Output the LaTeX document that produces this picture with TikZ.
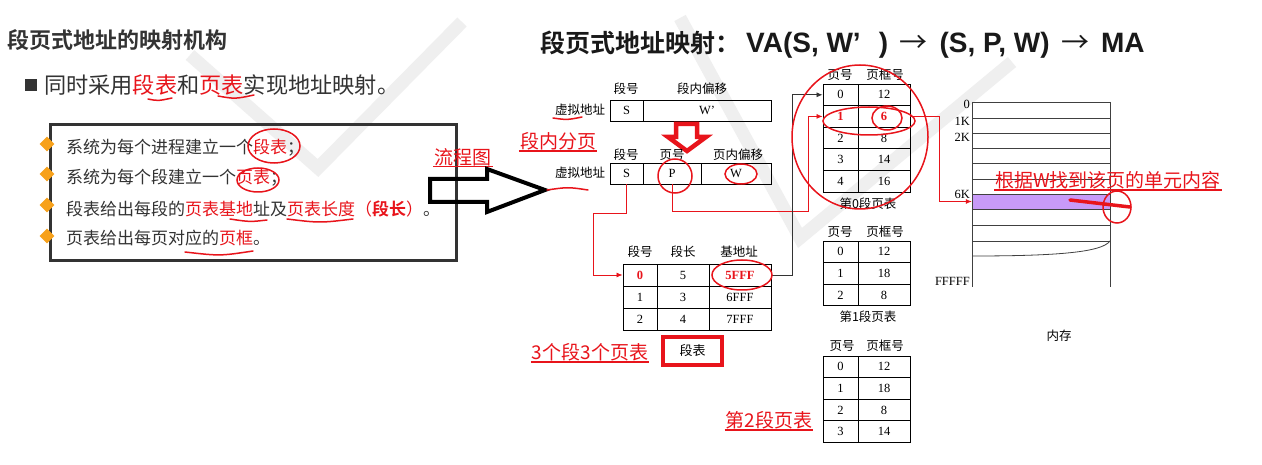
\documentclass[tikz,border=0pt]{standalone}
\usepackage{fontspec}
\setmainfont{Liberation Serif}
\newfontfamily\cjk{Noto Sans CJK SC}[BoldFont={Noto Sans CJK SC Bold}]
\newfontfamily\latsans{Liberation Sans}
\usetikzlibrary{arrows.meta,positioning,calc,shapes.geometric}
\definecolor{pen}{HTML}{E8141B}
\definecolor{ink}{HTML}{333333}
\definecolor{amber}{HTML}{F7A11A}
\definecolor{lilac}{HTML}{C89AF8}
\definecolor{ghost}{HTML}{EFEFEF}
\tikzset{
  cell/.style={draw,line width=0.9pt,inner sep=0pt,minimum height=21.6pt,minimum width=#1,font=\fontsize{12.5}{14}\selectfont},
  cell/.default=35pt,
  hot/.style={text=pen,font=\bfseries\fontsize{12.5}{14}\selectfont},
  norm/.style={},
  lbl/.style={font=\cjk\fontsize{12.5}{14}\selectfont,inner sep=0pt},
  memlbl/.style={font=\fontsize{12.5}{14}\selectfont,inner sep=1pt,anchor=east},
  item/.style={anchor=west,font=\cjk\fontsize{17}{19}\selectfont,text=ink,inner sep=0pt},
  redtag/.style={text=pen,font=\cjk\fontsize{19}{21}\selectfont,inner sep=1pt,
    append after command={(\tikzlastnode.south west) edge[pen,line width=1.1pt] (\tikzlastnode.south east)}},
  scrawl/.style={pen,line width=1.5pt,line cap=round},
  link/.style={pen,line width=0.8pt,-{Latex[length=6pt,width=5pt]}},
  blink/.style={black!80,line width=0.8pt,-{Latex[length=6pt,width=5pt]}},
  memline/.style={black!75,line width=0.8pt},
}
\begin{document}
\begin{tikzpicture}[x=1pt,y=-1pt]
  \useasboundingbox (0,0) rectangle (1262,465);
  \fill[white] (0,0) rectangle (1262,465);
  % watermark
  \draw[ghost,line width=13pt] (190,55) -- (318,168) -- (462,22);
  \draw[ghost,line width=13pt] (680,18) -- (800,238) -- (1012,62);

  % left half: slide text
  \node[anchor=west,font=\cjk\bfseries\fontsize{22}{24}\selectfont,text=ink,inner sep=0pt] (ltitle) at (7,40) {段页式地址的映射机构};
  \node[fill=ink,inner sep=0pt,minimum size=12pt] (sq) at (31,85) {};
  \node[anchor=west,font=\cjk\fontsize{22.2}{24}\selectfont,text=ink,inner sep=0pt] (lead) at (44,85) {同时采用\textcolor{pen}{段表}和\textcolor{pen}{页表}实现地址映射。};
  \node[draw=ink,line width=3pt,minimum width=406pt,minimum height=136pt,inner sep=0pt] (rules) at (253,193) {};
  \foreach \i/\y in {1/144,2/174,3/205,4/236}
    \node[diamond,fill=amber,inner sep=0pt,minimum size=15pt] (dot\i) at (47,\y) {};
  \node[item] (it1) at (66,148) {系统为每个进程建立一个\textcolor{pen}{段表}；};
  \node[item] (it2) at (66,178) {系统为每个段建立一个\textcolor{pen}{页表}；};
  \node[item] (it3) at (66,209) {段表给出每段的\textcolor{pen}{页表基地}址及\textcolor{pen}{页表长度（\textbf{段长}）}。};
  \node[item] (it4) at (66,238) {页表给出每页对应的\textcolor{pen}{页框}。};
  \node[redtag] (flowtag) at (463,157) {流程图};
  \draw[line width=4pt,line join=miter] (430,179) -- (487,179) -- (487,169) -- (545,190) -- (487,212) -- (487,202) -- (430,202) -- cycle;

  % right half: mapping
  \node[anchor=west,font=\cjk\bfseries\fontsize{25}{28}\selectfont,text=black!90,inner sep=0pt] (rtitle) at (540,45)
    {段页式地址映射：\hspace{6pt}{\latsans\bfseries\fontsize{28}{30}\selectfont VA(S, W’\hspace{18pt})\hspace{4pt} {\cjk\mdseries →}\hspace{4pt} (S, P, W)\hspace{4pt} {\cjk\mdseries →}\hspace{4pt} MA}};

  % virtual address before / after
  \node[lbl] at (626,89) {段号};
  \node[lbl] at (702,89) {段内偏移};
  \node[lbl] (va1lbl) at (580,110) {虚拟地址};
  \node[cell=33pt,minimum height=21pt] (va1-s) at (626.5,110.5) {S};
  \node[cell=128pt,minimum height=21pt] (va1-w) at (707,110.5) {W’};
  \draw[pen,line width=4.5pt,line join=miter,fill=white] (676,124) -- (697,124) -- (697,137) -- (706,137) -- (687,151) -- (668,137) -- (676,137) -- cycle;
  \node[redtag] (splittag) at (558,141) {段内分页};
  \node[lbl] at (626,155) {段号};
  \node[lbl] at (672,155) {页号};
  \node[lbl] at (738,155) {页内偏移};
  \node[lbl] (va2lbl) at (580,173) {虚拟地址};
  \node[cell=33pt,minimum height=21pt] (va2-s) at (626.5,173.5) {S};
  \node[cell=58pt,minimum height=21pt] (va2-p) at (672,173.5) {P};
  \node[cell=70pt,minimum height=21pt] (va2-w) at (736,173.5) {W};

  % segment table
  \node[lbl] at (640,252) {段号};
  \node[lbl] at (683,252) {段长};
  \node[lbl] at (739,252) {基地址};
  \foreach \r/\a/\b/\c/\s in {0/0/5/5FFF/hot,1/1/3/6FFF/norm,2/2/4/7FFF/norm} {
    \node[cell=34pt,minimum height=22pt,\s] (seg-\r-1) at (640,{275+22*\r}) {\a};
    \node[cell=52pt,minimum height=22pt] (seg-\r-2) at (683,{275+22*\r}) {\b};
    \node[cell=62pt,minimum height=22pt,\s] (seg-\r-3) at (740,{275+22*\r}) {\c};
  }
  \node[redtag] (counttag) at (590,352) {3个段3个页表};
  \node[draw=pen,line width=4pt,minimum width=59pt,minimum height=28pt,font=\cjk\fontsize{13}{15}\selectfont] (segbox) at (692.5,351) {段表};

  % page tables
  \node[lbl] at (840,75) {页号};
  \node[lbl] at (885,75) {页框号};
  \foreach \r/\a/\b/\s in {0/0/12/norm,1/1/6/hot,2/2/8/norm,3/3/14/norm,4/4/16/norm} {
    \node[cell=35pt,\s] (pa-\r-1) at (840.5,{94.8+21.6*\r}) {\a};
    \node[cell=52pt,\s] (pa-\r-2) at (884,{94.8+21.6*\r}) {\b};
  }
  \node[lbl] (pa-name) at (868,204) {第0段页表};
  \node[lbl] at (840,232) {页号};
  \node[lbl] at (885,232) {页框号};
  \foreach \r/\a/\b in {0/0/12,1/1/18,2/2/8} {
    \node[cell=35pt] (pb-\r-1) at (840.5,{251.8+21.6*\r}) {\a};
    \node[cell=52pt] (pb-\r-2) at (884,{251.8+21.6*\r}) {\b};
  }
  \node[lbl] (pb-name) at (868,317) {第1段页表};
  \node[lbl] at (842,346) {页号};
  \node[lbl] at (885,346) {页框号};
  \foreach \r/\a/\b in {0/0/12,1/1/18,2/2/8,3/3/14} {
    \node[cell=35pt] (pc-\r-1) at (840.5,{366.8+21.6*\r}) {\a};
    \node[cell=52pt] (pc-\r-2) at (884,{366.8+21.6*\r}) {\b};
  }
  \node[redtag] (pc-name) at (769,420) {第2段页表};

  % memory
  \node[fill=lilac,inner sep=0pt,minimum width=138pt,minimum height=15pt] (band) at (1041,201.5) {};
  \draw[memline] (972,102) -- (972,287) (1110,102) -- (1110,287);
  \foreach \y in {102,118,133,148,163,179,194,209,225,241}
    \draw[memline] (972,\y) -- (1110,\y);
  \draw[memline] (972,256) .. controls (1060,256) and (1102,252) .. (1110,241);
  \node[memlbl] at (971,104) {0};
  \node[memlbl] at (971,121) {1K};
  \node[memlbl] at (971,137) {2K};
  \node[memlbl] at (971,194) {6K};
  \node[memlbl] at (971,281) {FFFFF};
  \node[lbl] (memname) at (1059,336) {内存};
  \node[redtag,anchor=west] (findtag) at (994,180) {根据W找到该页的单元内容};

  % connectors
  \coordinate (sbend) at (593,213);
  \coordinate (pbend) at (808,211);
  \draw[link] (va2-s.south) |- (sbend) |- (seg-0-1.west);
  \draw[link] (va2-p.south) |- (pbend) |- (pa-1-1.west);
  \draw[blink] (seg-0-3.east) -| ([xshift=-30pt]pa-0-1.west) -- (pa-0-1.west);
  \draw[link] (pa-1-2.east) -| ([xshift=-32pt]band.west) -- (band.west);

  % hand marks
  \draw[scrawl] (148,99) .. controls (158,101) .. (172,98);
  \draw[scrawl] (218,96) .. controls (235,99) .. (254,95);
  \draw[scrawl] (274,146) ellipse [x radius=26pt,y radius=17pt];
  \draw[scrawl] (258,180) ellipse [x radius=21pt,y radius=12pt];
  \draw[scrawl] (230,219) .. controls (250,222) .. (267,220);
  \draw[scrawl] (287,219) .. controls (320,223) .. (353,219);
  \draw[scrawl] (185,252) .. controls (220,256) .. (253,251);
  \draw[scrawl] (553,118) .. controls (567,120) .. (582,117);
  \draw[scrawl] (547,190) .. controls (568,187) .. (588,190);
  \draw[scrawl] (675,176) ellipse [x radius=17pt,y radius=17pt];
  \draw[scrawl] (741,174) ellipse [x radius=16pt,y radius=10pt];
  \draw[scrawl] (742,275) ellipse [x radius=30pt,y radius=15pt];
  \draw[scrawl] (860,137) ellipse [x radius=68pt,y radius=72pt];
  \draw[scrawl] (869,121) ellipse [x radius=46pt,y radius=14pt];
  \draw[scrawl] (887,118) ellipse [x radius=15pt,y radius=12pt];
  \draw[pen,line width=3.5pt,line cap=round] (1070,200) -- (1130,207);
  \draw[scrawl] (1117,207) ellipse [x radius=14pt,y radius=16pt];
\end{tikzpicture}
\end{document}
